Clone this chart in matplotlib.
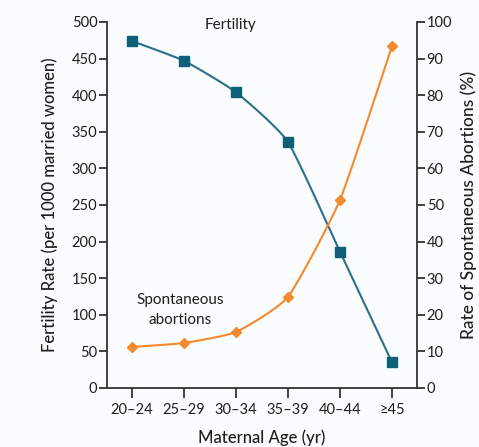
import numpy as np
import matplotlib
matplotlib.use("Agg")
import matplotlib.pyplot as plt

# Data
age_groups = ["20\u201324", "25\u201329", "30\u201334", "35\u201339", "40\u201344", "\u226545"]
fertility_rate = [474, 447, 404, 336, 186, 35]          # per 1000 married women
spontaneous_abortion = [11.2, 12.3, 15.3, 24.9, 51.4, 93.4]  # percent

BLUE_LINE = "#2a6f8c"
BLUE_MARK = "#0e5f78"
ORANGE = "#f28a2e"
TEXT = "#1e1e1e"

plt.rcParams["font.family"] = ["Lato", "DejaVu Sans"]


def smooth(x, y, tension=0.5, n=30):
    """Cardinal spline through the points, for a softly curved line."""
    x = np.asarray(x, float)
    y = np.asarray(y, float)
    pts = np.column_stack([x, y])
    tang = np.zeros_like(pts)
    tang[1:-1] = (pts[2:] - pts[:-2]) / 2
    tang[0] = pts[1] - pts[0]
    tang[-1] = pts[-1] - pts[-2]
    tang *= tension
    t = np.linspace(0, 1, n)[:, None]
    h00 = 2 * t**3 - 3 * t**2 + 1
    h10 = t**3 - 2 * t**2 + t
    h01 = -2 * t**3 + 3 * t**2
    h11 = t**3 - t**2
    segs = [h00 * pts[i] + h10 * tang[i] + h01 * pts[i + 1] + h11 * tang[i + 1]
            for i in range(len(pts) - 1)]
    out = np.vstack(segs)
    return out[:, 0], out[:, 1]


fig = plt.figure(figsize=(4.79, 4.47), dpi=100, facecolor="#fbfcfd")
ax = fig.add_axes([0.2234, 0.132, 0.6472, 0.8188])
ax.set_facecolor("#fbfcfd")
ax2 = ax.twinx()

x = np.arange(len(age_groups))

sx, sy = smooth(x, fertility_rate)
ax.plot(sx, sy, color=BLUE_LINE, lw=1.5, zorder=2)
ax.plot(x, fertility_rate, ls="none", marker="s", ms=7.5, color=BLUE_MARK, zorder=3)

ox, oy = smooth(x, spontaneous_abortion)
ax2.plot(ox, oy, color=ORANGE, lw=1.5, zorder=2)
ax2.plot(x, spontaneous_abortion, ls="none", marker="D", ms=5.5, color=ORANGE, zorder=3)

ax.set_xlim(-0.48, 5.48)
ax.set_ylim(0, 500)
ax2.set_ylim(0, 100)
ax.set_yticks(np.arange(0, 501, 50))
ax2.set_yticks(np.arange(0, 101, 10))
ax.set_xticks(x)
ax.set_xticklabels(age_groups)

for a in (ax, ax2):
    a.spines["top"].set_visible(False)
    for s in a.spines.values():
        s.set_color("#333333")
        s.set_linewidth(1.3)
    a.tick_params(colors="#333333", labelcolor=TEXT, labelsize=10.5,
                  width=1.3, length=6, pad=1)
ax.spines["right"].set_visible(False)
ax2.spines["left"].set_visible(False)
ax2.spines["bottom"].set_visible(False)
ax.tick_params(axis="x", length=7, pad=4)

label_font = dict(fontsize=12, color=TEXT, fontweight="medium")
ax.set_xlabel("Maternal Age (yr)", labelpad=9, **label_font)
ax.set_ylabel("Fertility Rate (per 1000 married women)", labelpad=10, **label_font)
ax2.set_ylabel("Rate of Spontaneous Abortions (%)", labelpad=6,
               fontsize=12.5, color=TEXT, fontweight="medium")

note_font = dict(ha="center", va="center", fontsize=11, color=TEXT)
ax.text(1.9, 496, "Fertility", **note_font)
ax.text(0.93, 120, "Spontaneous", **note_font)
ax.text(0.93, 93, "abortions", **note_font)

fig.savefig("out.png", dpi=100, facecolor=fig.get_facecolor())
